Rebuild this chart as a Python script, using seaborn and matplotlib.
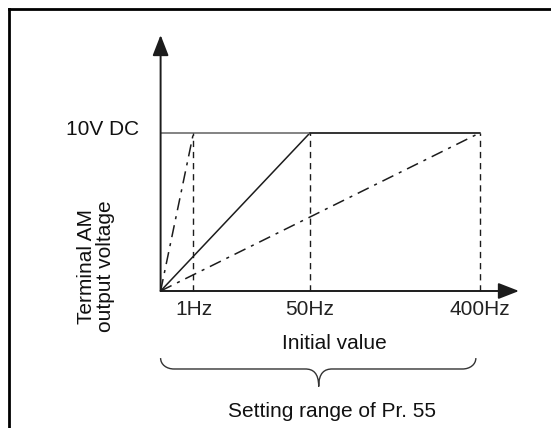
import numpy as np
import pandas as pd
import matplotlib
matplotlib.use("Agg")
import matplotlib.pyplot as plt
from matplotlib.path import Path
from matplotlib.patches import PathPatch
from matplotlib.lines import Line2D
import seaborn as sns

# ---- data ----
freq_labels = ["1Hz", "50Hz", "400Hz"]
freq_pos = [1.03, 4.68, 10.0]          # schematic (non-linear) axis positions
ramp_styles = ["dashdot", "solid", "dashdot"]
v_max = 10.0
v_label = "10V DC"
y_title = "Terminal AM\noutput voltage"
x_title = "Initial value"
range_title = "Setting range of Pr. 55"

sns.set_theme(style="white")
plt.rcParams["font.family"] = ["Liberation Sans", "DejaVu Sans"]

W, H = 551, 428
fig = plt.figure(figsize=(W / 100, H / 100), dpi=100)
ax = fig.add_axes([0, 0, 1, 1])
ax.set_axis_off()

# pixel mapping: origin at (160.6, 291); x unit 31.94 px, y unit 15.82 px
ox, oy, ux, uy = 160.6, 291.0, 31.94, 15.82
ax.set_xlim(-ox / ux, (W - ox) / ux)
ax.set_ylim(-(H - oy) / uy, oy / uy)

ink = "#1c1c1c"
dd = (8, 4, 2, 4)

# ramps
for lab, xp, st in zip(freq_labels, freq_pos, ramp_styles):
    df = pd.DataFrame({"f": [0.0, xp], "v": [0.0, v_max]})
    sns.lineplot(data=df, x="f", y="v", ax=ax, color=ink, lw=1.1, sort=False,
                 estimator=None)
    ln = ax.lines[-1]
    if st == "dashdot":
        ln.set_dashes(dd)

# horizontal 10V line (lighter to 50Hz, darker after)
h1 = pd.DataFrame({"f": [0.0, freq_pos[1]], "v": [v_max, v_max]})
h2 = pd.DataFrame({"f": [freq_pos[1], freq_pos[2]], "v": [v_max, v_max]})
sns.lineplot(data=h1, x="f", y="v", ax=ax, color="#7a7a7a", lw=1.3, sort=False, estimator=None)
sns.lineplot(data=h2, x="f", y="v", ax=ax, color="#333333", lw=1.4, sort=False, estimator=None)

# vertical dashed guides
for xp in freq_pos:
    ax.plot([xp, xp], [0, v_max], color=ink, lw=1.0, dashes=(4.5, 3.5))

# axes arrows
ax.annotate("", xy=(0, 256 / uy), xytext=(0, 0),
            arrowprops=dict(arrowstyle="-|>,head_length=0.9,head_width=0.35", lw=1.4,
                            color=ink, shrinkA=0, shrinkB=0, mutation_scale=14))
ax.annotate("", xy=(358.4 / ux, 0), xytext=(0, 0),
            arrowprops=dict(arrowstyle="-|>,head_length=0.9,head_width=0.35", lw=1.4,
                            color=ink, shrinkA=0, shrinkB=0, mutation_scale=14))

fs = 15
# tick labels
for lab, xp in zip(freq_labels, freq_pos):
    ax.text(xp, -1.14, lab, ha="center", va="center", fontsize=fs, color="#222222")

ax.text(-21.5 / ux, 10.24, v_label, ha="right", va="center", fontsize=fs, color="#111111")
ax.text(-2.02, 1.58, y_title, ha="center", va="center", rotation=90,
        fontsize=fs, color="#111111", linespacing=0.95)
ax.text(5.43, -3.35, x_title, ha="center", va="center", fontsize=fs, color="#111111")
ax.text(5.36, -7.59, range_title, ha="center", va="center", fontsize=fs, color="#111111")

# brace
x0, x1, xm = 0.0, 9.87, 4.95
yt, yh, yp = -4.24, -4.93, -6.04
cx = 0.42
dy = yh - yt
verts = [
    (x0, yt), (x0, yt + 0.6 * dy), (x0 + 0.45 * cx, yh), (x0 + cx, yh),
    (xm - cx, yh),
    (xm - 0.45 * cx, yh), (xm, yh + 0.2 * (yp - yh)), (xm, yp),
    (xm, yh + 0.2 * (yp - yh)), (xm + 0.45 * cx, yh), (xm + cx, yh),
    (x1 - cx, yh),
    (x1 - 0.45 * cx, yh), (x1, yt + 0.6 * dy), (x1, yt),
]
codes = [Path.MOVETO, Path.CURVE4, Path.CURVE4, Path.CURVE4,
         Path.LINETO,
         Path.CURVE4, Path.CURVE4, Path.CURVE4,
         Path.CURVE4, Path.CURVE4, Path.CURVE4,
         Path.LINETO,
         Path.CURVE4, Path.CURVE4, Path.CURVE4]
ax.add_patch(PathPatch(Path(verts, codes), fill=False, lw=1.0, edgecolor="#333333"))

# frame (top and left only)
fig.add_artist(Line2D([8.5 / W, 1.0], [1 - 9 / H, 1 - 9 / H], transform=fig.transFigure,
                      color="black", lw=2.0, solid_capstyle="projecting"))
fig.add_artist(Line2D([8.5 / W, 8.5 / W], [1 - 9 / H, 0.0], transform=fig.transFigure,
                      color="black", lw=2.0, solid_capstyle="projecting"))

fig.savefig("out.png", dpi=100, facecolor="white")
